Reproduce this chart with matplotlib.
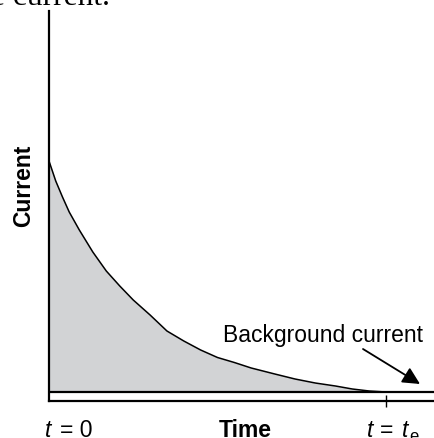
import matplotlib
matplotlib.use("Agg")
import matplotlib.pyplot as plt

plt.rcParams['font.family'] = ['Liberation Sans', 'DejaVu Sans']

# time in units where t = t_e is 10, current in arbitrary units
time = [0, 0.2, 0.4, 0.6, 0.9, 1.3, 1.7, 2.1, 2.5, 3.0, 3.5, 4.0, 4.5, 5.0,
        5.5, 6.0, 6.7, 7.3, 7.9, 8.5, 9.0, 9.5, 10.0]
current = [24.0, 22.0, 20.4, 18.9, 17.1, 14.9, 13.0, 11.5, 10.1, 8.6, 7.0, 6.0,
           5.1, 4.35, 3.85, 3.3, 2.7, 2.2, 1.8, 1.5, 1.2, 1.0, 0.9]
background = 0.9
t_end = 10.0

W, H = 434, 439

def figText(x, y, s, **kw):
    # x, y in pixels from the top-left corner
    return fig.text(x/W, 1 - y/H, s, **kw)

fig = plt.figure(figsize=(W/100, H/100), dpi=100)
ax = fig.add_axes([49/W, 37/H, 385/W, 390/H])
ax.set_xlim(0, 385/33.7)
ax.set_ylim(0, 39)

# shaded charge + decay curve
ax.fill_between(time, current, background, color='#d2d3d5', lw=0, zorder=1)
ax.plot(time, current, color='black', lw=1.1, zorder=3)
ax.axhline(background, color='black', lw=1.6, zorder=4)

for side in ['top', 'right']:
    ax.spines[side].set_visible(False)
for side in ['left', 'bottom']:
    ax.spines[side].set_linewidth(1.6)

ax.set_yticks([])
ax.set_xticks([t_end])
ax.set_xticklabels([])
ax.tick_params(axis='x', direction='inout', length=9, width=1)

# labels under the axis
fs = 16.5
figText(45, 437, 't', fontsize=fs, style='italic', va='baseline')
figText(60, 437, '= 0', fontsize=fs, va='baseline')
figText(245, 437, 'Time', fontsize=fs, fontweight='bold', ha='center', va='baseline')
figText(367, 437, 't', fontsize=fs, style='italic', va='baseline')
figText(380, 437, '=', fontsize=fs, va='baseline')
figText(402, 437, 't', fontsize=fs, style='italic', va='baseline')
figText(409.5, 441, 'e', fontsize=12, va='baseline')

figText(30, 186, 'Current', rotation=90, rotation_mode='anchor',
        fontsize=fs, fontweight='bold', ha='center', va='baseline')

figText(323, 342, 'Background current', fontsize=fs, ha='center', va='baseline')
ax.annotate('', xy=((420-49)/33.7, (402-385)/10), xytext=((363-49)/33.7, (402-350)/10),
            arrowprops=dict(arrowstyle='-|>', color='black', lw=1.3, mutation_scale=26,
                            shrinkA=0, shrinkB=0))

# leftover text from the page above the figure
figText(-9, 5, 'e current.', family='Liberation Serif', fontsize=22.7, va='baseline')

fig.savefig('out.png', dpi=100)
